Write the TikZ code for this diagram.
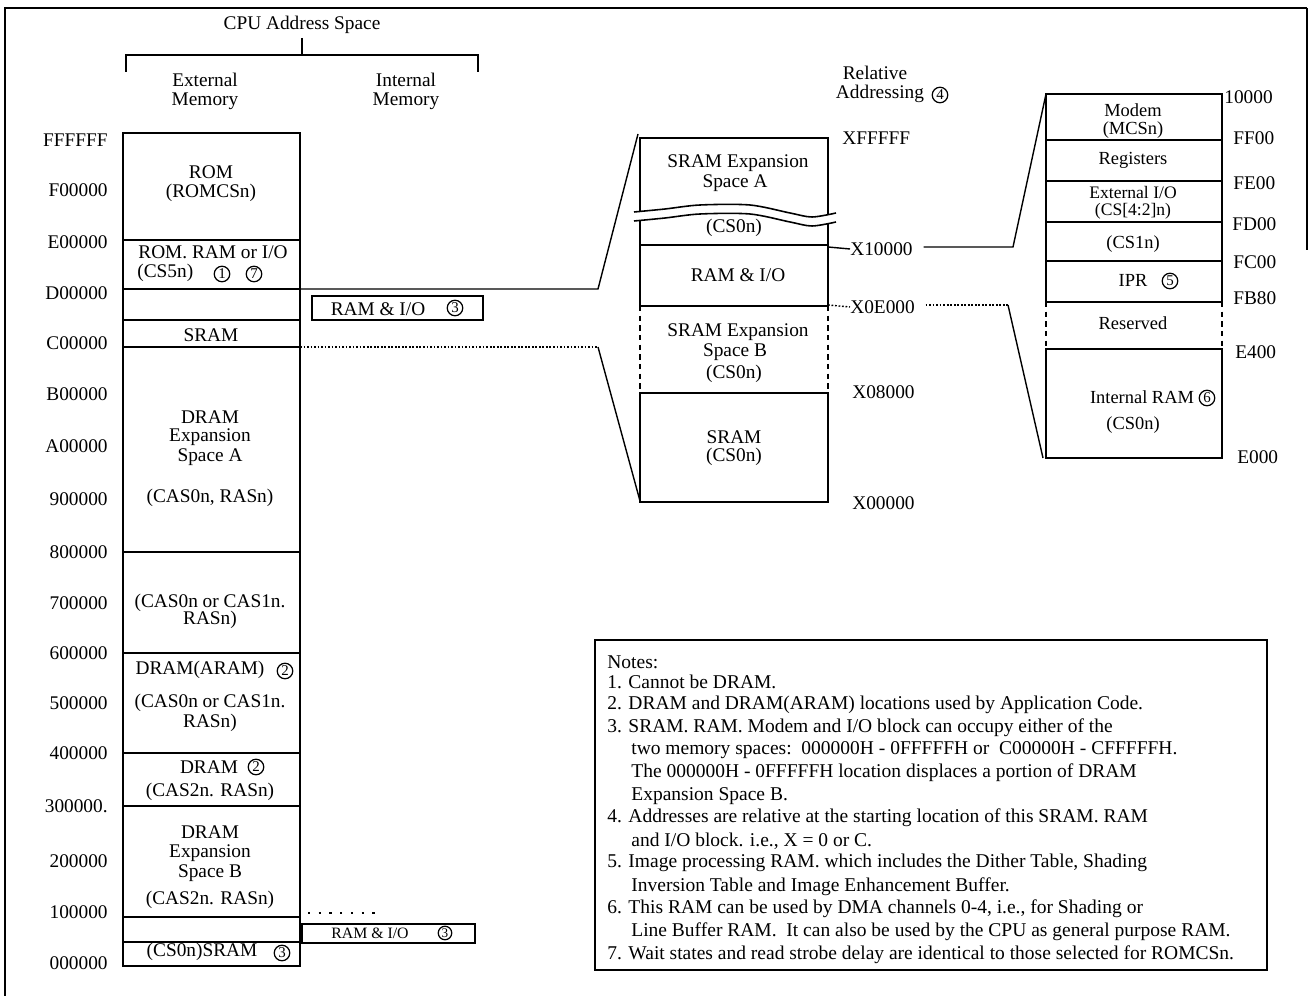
\documentclass[tikz,border=0pt]{standalone}
\usepackage{fontspec}
\setmainfont{Liberation Serif}
\begin{document}
\begin{tikzpicture}[x=0.02cm,y=-0.02cm,
  box/.style={draw,line width=1.1pt},
  thin box/.style={draw,line width=0.9pt},
  conn/.style={line width=0.8pt},
  dots/.style={line width=0.8pt,dash pattern=on 1pt off 1pt},
  dsides/.style={line width=1pt,dash pattern=on 3pt off 2.5pt},
  txt/.style={font=\fontsize{11}{13}\selectfont, inner sep=0pt},
  small/.style={font=\fontsize{10.5}{12}\selectfont, inner sep=0pt},
  addr/.style={font=\fontsize{11}{13}\selectfont, inner sep=0pt, anchor=east},
  rlab/.style={font=\fontsize{11}{13}\selectfont, inner sep=0pt, anchor=west},
  note/.style={font=\fontsize{11.1}{12}\selectfont, inner sep=0pt, anchor=west},
  cnum/.style={draw, circle, line width=0.7pt, inner sep=0pt, minimum size=15.5*0.02cm, font=\fontsize{8.5}{8.5}\selectfont},
  cnums/.style={cnum, minimum size=13.5*0.02cm, font=\fontsize{7.5}{7.5}\selectfont}]
\useasboundingbox (0,0) rectangle (1309,996);
% outer frame
\draw[line width=1.2pt] (5,996) -- (5,8) -- (1307,8);
\draw[line width=0.8pt] (1307,8) -- (1307,250);

% title and bracket
\node[txt] (title) at (302,25) {CPU Address Space};
\draw[line width=1pt] (126,72) -- (126,55) -- (478,55) -- (478,72);
\draw[line width=1pt] (302,38) -- (302,55);
\node[txt] (ext1) at (205,80) {External};
\node[txt] (ext2) at (205,101) {Memory};
\node[txt] (int1) at (406,80) {Internal};
\node[txt] (int2) at (406,101) {Memory};

% left column
\draw[box] (123,133) rectangle (300,966);
\foreach \yy in {240,289,320,347,552,653,753,806,917,942}
  \draw[box] (123,\yy) -- (300,\yy);

% address labels
\foreach \lab/\yy in {FFFFFF/140,F00000/190,E00000/242,D00000/293,C00000/343,B00000/394,A00000/446,900000/499,800000/552,700000/603,600000/653,500000/703,400000/753,300000./806,200000/861,100000/912,000000/963}
  \node[addr] at (108,\yy) {\lab};

% left texts
\node[txt] (rom1) at (211,172) {ROM};
\node[txt] (rom2) at (211,193) {(ROMCSn)};
\node[txt] (rri1) at (213,252) {ROM. RAM or I/O};
\node[txt,anchor=west] (rri2) at (137,273) {(CS5n)};
\node[cnum] (n1a) at (222,274) {1};
\node[cnum] (n7a) at (254,274) {7};
\node[txt] (sram1) at (211,335) {SRAM};
\node[txt] (da1) at (210,417) {DRAM};
\node[txt] (da2) at (210,437) {Expansion};
\node[txt] (da3) at (210,457) {Space A};
\node[txt] (da4) at (210,498) {(CAS0n, RASn)};
\node[txt] (c71) at (210,603) {(CAS0n or CAS1n.};
\node[txt] (c72) at (210,620) {RASn)};
\node[txt] (ar1) at (200,670) {DRAM(ARAM)};
\node[cnum] (n2a) at (285,671) {2};
\node[txt] (ar2) at (210,703) {(CAS0n or CAS1n.};
\node[txt] (ar3) at (210,723) {RASn)};
\node[txt] (d41) at (209,767) {DRAM};
\node[cnum] (n2b) at (256,767) {2};
\node[txt] (d42) at (210,792) {(CAS2n. RASn)};
\node[txt] (db1) at (210,832) {DRAM};
\node[txt] (db2) at (210,853) {Expansion};
\node[txt] (db3) at (210,873) {Space B};
\node[txt] (db4) at (210,900) {(CAS2n. RASn)};
\node[txt] (cs0s) at (202,952) {(CS0n)SRAM};
\node[cnum] (n3a) at (282,953) {3};

% internal memory blocks
\draw[thin box] (312,296) rectangle (483,320);
\node[txt] (intram) at (378,309) {RAM \& I/O};
\node[cnum] (n3b) at (455,308) {3};
\draw[line width=1.2pt,dash pattern=on 1.3pt off 4.8pt] (308,913) -- (375,913);
\draw[thin box] (302,924) rectangle (475,943);
\node[font=\fontsize{9}{10}\selectfont,inner sep=0pt] (intram2) at (370,933) {RAM \& I/O};
\node[cnums] (n3c) at (445,933) {3};

% connectors from left column to expansion
\coordinate (L1) at (300,289);
\coordinate (B1) at (598,289);
\coordinate (M1) at (638,134);
\draw[conn] (L1) -- (B1) -- (M1);
\coordinate (L2) at (300,347);
\coordinate (B2) at (598,347);
\coordinate (M2) at (640,501);
\draw[dots] (L2) -- (B2);
\draw[conn] (B2) -- (M2);

% middle expansion box
\draw[box] (640,306) -- (640,138) -- (828,138) -- (828,306);
\draw[box] (640,245) -- (828,245);
\draw[box] (640,306) -- (828,306);
\draw[dsides] (640,306) -- (640,393);
\draw[dsides] (828,306) -- (828,393);
\draw[box] (640,393) rectangle (828,502);
% break wave
\fill[white] plot[smooth] coordinates {(634,212) (665,209) (700,205) (750,205) (790,213) (812,217) (836,213)}
  -- plot[smooth] coordinates {(836,222) (812,226) (790,222) (750,214) (700,214) (665,218) (634,221)} -- cycle;
\draw[line width=0.9pt] plot[smooth] coordinates {(634,212) (665,209) (700,205) (750,205) (790,213) (812,217) (836,213)};
\draw[line width=0.9pt] plot[smooth] coordinates {(634,221) (665,218) (700,214) (750,214) (790,222) (812,226) (836,222)};

\node[txt] (sea1) at (738,163) {SRAM Expansion};
\node[txt] (sea2) at (735,183) {Space A};
\node[txt] (sea3) at (734,228) {(CS0n)};
\node[txt] (rio) at (738,275) {RAM \& I/O};
\node[txt] (seb1) at (738,332) {SRAM Expansion};
\node[txt] (seb2) at (735,352) {Space B};
\node[txt] (seb3) at (734,374) {(CS0n)};
\node[txt] (sr1) at (734,437) {SRAM};
\node[txt] (sr2) at (734,457) {(CS0n)};

% relative labels
\node[txt] (rel1) at (875,73) {Relative};
\node[txt] (rel2) at (880,94) {Addressing};
\node[cnum] (n4) at (940,95) {4};
\node[rlab] (xf) at (842,138) {XFFFFF};
\node[rlab] (x10) at (850,249) {X10000};
\node[rlab] (x0e) at (850,307) {X0E000};
\node[rlab] (x08) at (852,392) {X08000};
\node[rlab] (x00) at (852,503) {X00000};

% connectors to right block
\coordinate (P1) at (828,247);
\coordinate (B3) at (1013,247);
\coordinate (R1) at (1046,94);
\draw[conn] (P1) -- (x10.west);
\draw[conn] ([xshift=6pt]x10.east |- B3) -- (B3) -- (R1);
\coordinate (P2) at (828,305);
\coordinate (B4) at (1008,305);
\coordinate (R2) at (1043,458);
\draw[dots] (P2) -- (x0e.west);
\draw[dots] ([xshift=6pt]x0e.east |- B4) -- (B4);
\draw[conn] (B4) -- (R2);

% right block
\draw[box] (1046,302) -- (1046,94) -- (1222,94) -- (1222,302);
\foreach \yy in {140,181,222,261,302}
  \draw[box] (1046,\yy) -- (1222,\yy);
\draw[dsides] (1046,302) -- (1046,349);
\draw[dsides] (1222,302) -- (1222,349);
\draw[box] (1046,349) rectangle (1222,458);

\node[small] (mo1) at (1133,110) {Modem};
\node[small] (mo2) at (1133,130) {(MCSn)};
\node[small] (reg) at (1133,160) {Registers};
\node[small,font=\fontsize{10}{11}\selectfont] (eio1) at (1133,192) {External I/O};
\node[small,font=\fontsize{10}{11}\selectfont] (eio2) at (1133,211) {(CS[4:2]n)};
\node[small] (cs1) at (1133,244) {(CS1n)};
\node[small] (ipr) at (1133,280) {IPR};
\node[cnum] (n5) at (1170,281) {5};
\node[small] (res) at (1133,323) {Reserved};
\node[small] (iram) at (1142,397) {Internal RAM};
\node[cnum] (n6) at (1207,398) {6};
\node[small] (iram2) at (1133,425) {(CS0n)};

\node[rlab] (a10) at (1224,97) {10000};
\node[rlab] (aff) at (1233,138) {FF00};
\node[rlab] (afe) at (1233,183) {FE00};
\node[rlab] (afd) at (1232,224) {FD00};
\node[rlab] (afc) at (1233,262) {FC00};
\node[rlab] (afb) at (1233,298) {FB80};
\node[rlab] (ae4) at (1235,352) {E400};
\node[rlab] (ae0) at (1237,457) {E000};

% notes
\draw[line width=1pt] (595,640) rectangle (1267,970);
\node[note] at (607,662) {Notes:};
\node[note] at (607,682) {1. Cannot be DRAM.};
\node[note] at (607,705) {2. DRAM and DRAM(ARAM) locations used by Application Code.};
\node[note] at (607,728) {3. SRAM. RAM. Modem and I/O block can occupy either of the};
\node[note] at (631,750) {two memory spaces:\ \ 000000H - 0FFFFFH or\ \ C00000H - CFFFFFH.};
\node[note] at (631,773) {The 000000H - 0FFFFFH location displaces a portion of DRAM};
\node[note] at (631,796) {Expansion Space B.};
\node[note] at (607,818) {4. Addresses are relative at the starting location of this SRAM. RAM};
\node[note] at (631,841) {and I/O block. i.e., X = 0 or C.};
\node[note] at (607,863) {5. Image processing RAM. which includes the Dither Table, Shading};
\node[note] at (631,887) {Inversion Table and Image Enhancement Buffer.};
\node[note] at (607,909) {6. This RAM can be used by DMA channels 0-4, i.e., for Shading or};
\node[note] at (631,932) {Line Buffer RAM.\ \ It can also be used by the CPU as general purpose RAM.};
\node[note] at (607,955) {7. Wait states and read strobe delay are identical to those selected for ROMCSn.};
\end{tikzpicture}
\end{document}
